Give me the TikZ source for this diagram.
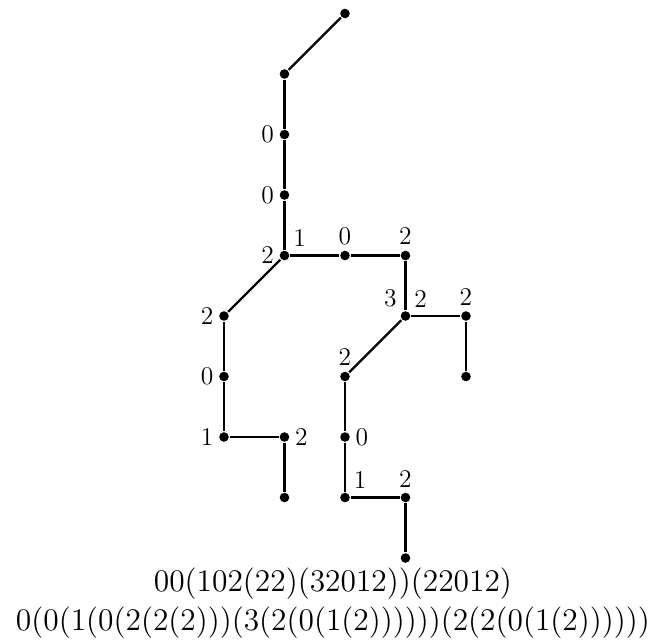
\documentclass[tikz,border=0pt]{standalone}
\usepackage{amsmath}
\newcommand{\bigtxt}{\fontsize{14.8pt}{18pt}\selectfont}
\newcommand{\lbltxt}{\fontsize{12pt}{14pt}\selectfont}
\begin{document}
\begin{tikzpicture}[
  vtx/.style={circle,fill,inner sep=0pt,minimum size=4.5pt},
  every label/.style={inner sep=1.6pt,font=\lbltxt},
  label distance=0pt,
  line width=1.1pt]
  \useasboundingbox (-3.702,-1.339) rectangle (7.289,9.223);
  % trunk
  \node[vtx] (t0) at (2,9) {};
  \node[vtx] (t1) at (1,8) {};
  \node[vtx,label=left:0] (t2) at (1,7) {};
  \node[vtx,label=left:0] (t3) at (1,6) {};
  \node[vtx,label=left:2,label=above right:1] (t4) at (1,5) {};
  % right branch
  \node[vtx,label=above:0] (r1) at (2,5) {};
  \node[vtx,label=above:2] (r2) at (3,5) {};
  \node[vtx,label=above left:3,label=above right:2] (r3) at (3,4) {};
  \node[vtx,label=above:2] (r4) at (4,4) {};
  \node[vtx] (r5) at (4,3) {};
  \node[vtx,label=above:2] (s1) at (2,3) {};
  \node[vtx,label=right:0] (s2) at (2,2) {};
  \node[vtx,label=above right:1] (s3) at (2,1) {};
  \node[vtx,label=above:2] (s4) at (3,1) {};
  \node[vtx] (s5) at (3,0) {};
  % left branch
  \node[vtx,label=left:2] (l1) at (0,4) {};
  \node[vtx,label=left:0] (l2) at (0,3) {};
  \node[vtx,label=left:1] (l3) at (0,2) {};
  \node[vtx,label=right:2] (l4) at (1,2) {};
  \node[vtx] (l5) at (1,1) {};
  \foreach \a/\b in {t0/t1,t1/t2,t2/t3,t3/t4,t4/r1,r1/r2,r2/r3,r3/r4,r4/r5,
    r3/s1,s1/s2,s2/s3,s3/s4,s4/s5,t4/l1,l1/l2,l2/l3,l3/l4,l4/l5}
    \draw (\a) -- (\b);
  % words
  \node[font=\bigtxt,anchor=base,inner sep=0pt] (w1) at (1.8,-0.56) {00(102(22)(32012))(22012)};
  \node[font=\bigtxt,anchor=base,inner sep=0pt] (w2) at (1.8,-1.2) {0(0(1(0(2(2(2)))(3(2(0(1(2))))))(2(2(0(1(2))))))};
\end{tikzpicture}
\end{document}
